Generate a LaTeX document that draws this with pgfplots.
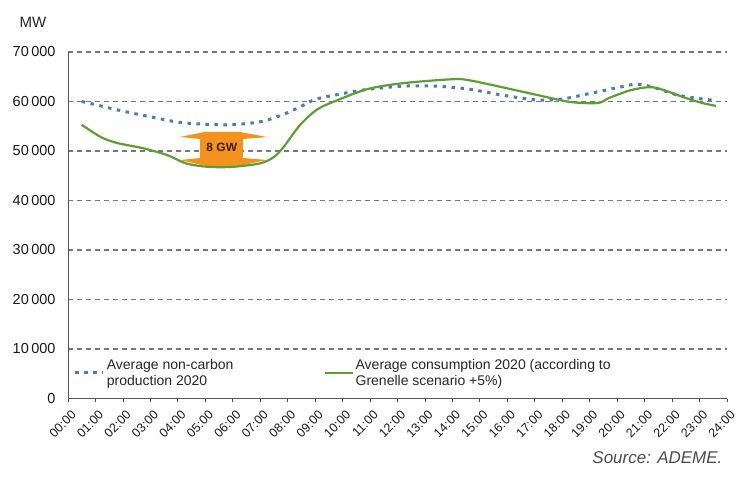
\documentclass[border=0pt]{standalone}
\usepackage{pgfplots}
\pgfplotsset{compat=1.18}
\usepackage{fontspec}
\setmainfont{Liberation Sans}

\definecolor{prodblue}{RGB}{75,125,178}
\definecolor{consgreen}{RGB}{92,158,52}
\definecolor{gworange}{RGB}{243,146,30}
\definecolor{gridgray}{RGB}{120,120,120}

\begin{document}
\begin{tikzpicture}
\begin{axis}[
  scale only axis,
  width=659pt, height=346.5pt,
  xmin=0, xmax=24, ymin=0, ymax=70000,
  clip=false,
  scaled y ticks=false,
  axis x line=bottom, axis y line=left,
  axis line style={-, draw=gridgray!70!black, line width=0.9pt},
  xtick={0,...,24},
  xticklabels={00:00,01:00,02:00,03:00,04:00,05:00,06:00,07:00,08:00,09:00,10:00,11:00,12:00,
    13:00,14:00,15:00,16:00,17:00,18:00,19:00,20:00,21:00,22:00,23:00,24:00},
  ytick={0,10000,...,70000},
  yticklabels={0,10\,000,20\,000,30\,000,40\,000,50\,000,60\,000,70\,000},
  tick align=outside,
  major tick length=3pt,
  ytick style={draw=none},
  xtick style={draw=gridgray!60!black, line width=0.8pt},
  xticklabel style={font=\fontsize{12.5}{13}\selectfont, text=black!90,
    xshift=2.5pt, yshift=-8pt, rotate=45, anchor=north east, inner sep=0pt},
  yticklabel style={font=\fontsize{14.5}{15}\selectfont, text=black!90, xshift=-6pt},
  ymajorgrids,
  grid style={gridgray, dash pattern=on 5pt off 4pt, line width=1.1pt},
  legend columns=2,
  legend cell align=left,
  legend style={draw=none, fill=none, at={(rel axis cs:0.004,0.125)}, anchor=north west,
    font=\fontsize{14}{15.5}\selectfont, text=black!85, cells={align=left},
    /tikz/every even column/.append style={column sep=88pt}},
  legend image code/.code={\draw[#1] (0pt,0pt) -- (28pt,0pt);},
]
% 8 GW arrow
\fill[gworange] (axis cs:4.99,53840) -- (axis cs:6.26,53840) -- (axis cs:7.25,52830)
  -- (axis cs:6.37,52420) -- (axis cs:6.37,48590) -- (axis cs:7.25,48180)
  -- (axis cs:6.26,47000) -- (axis cs:4.99,47000) -- (axis cs:4.08,48180)
  -- (axis cs:4.81,48590) -- (axis cs:4.81,52420) -- (axis cs:4.08,52830) -- cycle;

\addplot[prodblue, line width=3pt, dash pattern=on 3.5pt off 5.5pt, smooth, tension=0.5]
coordinates {
  (0.5,60000) (1.05,59300) (1.8,58300) (3.0,56900) (4.2,55700) (5.8,55300)
  (7.0,55900) (7.8,57300) (8.45,58900) (9.05,60500) (10.3,61900) (11.0,62500)
  (12.2,63100) (13.4,63100) (14.6,62500) (15.8,61300) (17.1,60300) (18.0,60500)
  (18.9,61500) (20.1,62900) (20.7,63500) (21.3,62900) (22.2,61300) (23.1,60500)
  (23.5,60300)
};
\addlegendentry{Average non-carbon\\production 2020}

\addplot[consgreen, line width=2.2pt, smooth, tension=0.5]
coordinates {
  (0.5,55300) (1.2,52800) (1.8,51600) (2.7,50600) (3.6,49200) (4.3,47500)
  (5.1,46800) (6.0,46800) (7.0,47500) (7.5,48800) (7.85,50800) (8.45,55250)
  (9.05,58300) (9.65,59900) (10.9,62500) (12.2,63700) (14.0,64500) (14.6,64300)
  (15.8,62900) (17.1,61300) (18.3,59900) (19.3,59700) (19.7,60700) (20.5,62300)
  (21.2,62900) (21.7,62300) (22.5,60700) (23.1,59700) (23.6,59100)
};
\addlegendentry{Average consumption 2020 (according to\\Grenelle scenario +5\%)}

\node[font=\bfseries\fontsize{12}{12}\selectfont, text={rgb,255:red,60;green,30;blue,0}]
  at (axis cs:5.6,50700) {8 GW};

\coordinate (O) at (rel axis cs:0,0);
\end{axis}
\node[font=\fontsize{15}{15}\selectfont, text=black!85] at ([shift={(-35pt,376.5pt)}]O) {MW};
\node[font=\itshape\fontsize{17}{17}\selectfont, text=black!70, anchor=east]
  at ([shift={(658pt,-59.5pt)}]O) {Source: ADEME.};
\path ([shift={(-68pt,-77.5pt)}]O) rectangle ([shift={(670pt,398.5pt)}]O);
\end{tikzpicture}
\end{document}
